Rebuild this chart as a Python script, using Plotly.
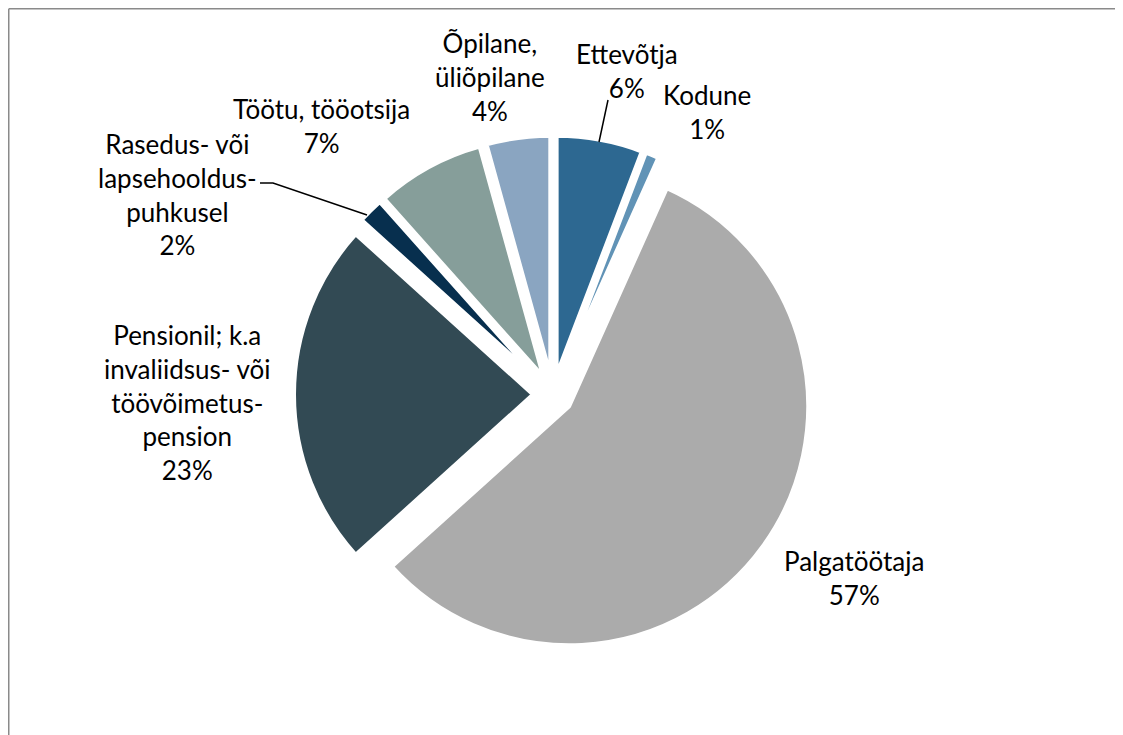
import plotly.graph_objects as go

# ---- data ----
categories = ["Ettevõtja", "Kodune", "Palgatöötaja",
              "Pensionil; k.a invaliidsus- või töövõimetus-pension",
              "Rasedus- või lapsehooldus-puhkusel",
              "Töötu, tööotsija", "Õpilane, üliõpilane"]
values = [5.8, 0.9, 56.6, 23.4, 1.7, 7.3, 4.3]
label_lines = [["Ettevõtja"], ["Kodune"], ["Palgatöötaja"],
               ["Pensionil; k.a", "invaliidsus- või", "töövõimetus-", "pension"],
               ["Rasedus- või", "lapsehooldus-", "puhkusel"],
               ["Töötu, tööotsija"], ["Õpilane,", "üliõpilane"]]
colors = ["#2D6891", "#6193B6", "#ABABAB", "#324A54", "#072F4E", "#869E9A", "#8AA5C1"]

# page has an 8px body margin: figure fills the rest of the window
OFF = 8
W, H = 1123 - OFF, 735 - OFF

# label block centres in page pixels (layout)
label_pos = [(627, 71), (707, 112), (854, 578), (187, 402), (177, 194), (321, 126), (490, 77)]


def px(x):
    return (x - OFF) / W


def py(y):
    return 1 - (y - OFF) / H


total = sum(values)
pie_r_px = 239
pull_px = 20
pull = pull_px / pie_r_px
cx, cy = 553, 394.5
half_h = pie_r_px * (1 + pull)

fig = go.Figure(go.Pie(
    labels=categories,
    values=values,
    sort=False,
    direction="clockwise",
    rotation=0,
    pull=[pull] * len(values),
    marker=dict(colors=colors, line=dict(color="white", width=4)),
    textinfo="none",
    hoverinfo="label+percent",
    showlegend=False,
    domain=dict(x=[px(cx - half_h - 20), px(cx + half_h + 20)],
                y=[py(cy + half_h), py(cy - half_h)]),
))

annotations = []
for lines, v, (lx, ly) in zip(label_lines, values, label_pos):
    text = "<br>".join(lines + [f"{round(v / total * 100)}%"])
    annotations.append(dict(
        x=px(lx), y=py(ly), xref="paper", yref="paper",
        text=text, showarrow=False, xanchor="center", yanchor="middle",
        align="center", font=dict(family="Lato", size=26, color="#000000"),
    ))

frame = dict(color="#8A8A8A", width=1.5)
shapes = [
    # chart frame (top and left edges)
    dict(type="line", xref="paper", yref="paper",
         x0=px(8.75), y0=py(8.75), x1=1.0, y1=py(8.75), line=frame),
    dict(type="line", xref="paper", yref="paper",
         x0=px(8.75), y0=py(8.75), x1=px(8.75), y1=0.0, line=frame),
    # leader lines
    dict(type="line", xref="paper", yref="paper",
         x0=px(599), y0=py(142), x1=px(608), y1=py(100),
         line=dict(color="black", width=1.5)),
    dict(type="path", xref="paper", yref="paper",
         path=f"M {px(260)},{py(183)} L {px(273)},{py(183)} L {px(367)},{py(215)}",
         line=dict(color="black", width=1.5)),
]

fig.update_layout(
    width=W, height=H,
    margin=dict(l=0, r=0, t=0, b=0),
    paper_bgcolor="white", plot_bgcolor="white",
    annotations=annotations, shapes=shapes,
)

fig.write_html("out.html", config={"displayModeBar": False})
